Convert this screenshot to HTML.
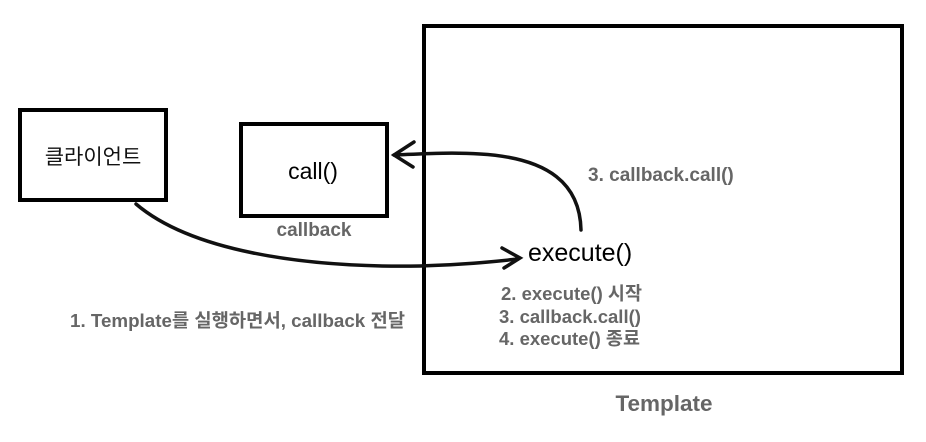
<!DOCTYPE html>
<html><head><meta charset="utf-8"><style>
body{margin:0;width:926px;height:442px;background:#fff;overflow:hidden;font-family:"Liberation Sans","Noto Sans CJK KR",sans-serif}
svg{position:absolute;left:0;top:0}
</style></head><body>
<svg width="926" height="442" viewBox="0 0 926 442">
<g fill="none" stroke="#000" stroke-width="4">
<rect x="20" y="110" width="146" height="90"/>
<rect x="241" y="124" width="146" height="92"/>
<rect x="424" y="26" width="478" height="347"/>
</g>
<g fill="none" stroke="#111" stroke-width="3.5" stroke-linecap="round">
<path d="M136 204 C190 250 300 268 420 266 C460 265 490 262 518 259"/>
<path d="M502 248 L520 258 L504 268"/>
<path d="M581 230 C580 185 550 158 480 154 C450 152 420 154 394 155"/>
<path d="M414 142 L394 155 L413 167"/>
</g>
<g font-family="Liberation Sans, Noto Sans CJK KR, sans-serif">
<text x="93" y="164" font-size="21" text-anchor="middle" fill="#111">클라이언트</text>
<text x="313" y="179" font-size="23" text-anchor="middle" fill="#000">call()</text>
<text x="314" y="236" font-size="19" font-weight="bold" text-anchor="middle" fill="#666">callback</text>
<text x="588" y="181" font-size="19" font-weight="bold" fill="#666">3. callback.call()</text>
<text x="528" y="261" font-size="25" fill="#000">execute()</text>
<g font-size="18.5" font-weight="bold" fill="#666">
<text x="501" y="300">2. execute() 시작</text>
<text x="499" y="323">3. callback.call()</text>
<text x="499" y="345">4. execute() 종료</text>
<text x="70" y="327" textLength="335" lengthAdjust="spacingAndGlyphs">1. Template를 실행하면서, callback 전달</text>
</g>
<text x="664" y="411" font-size="22.5" font-weight="bold" text-anchor="middle" fill="#666">Template</text>
</g>
</svg>
</body></html>
